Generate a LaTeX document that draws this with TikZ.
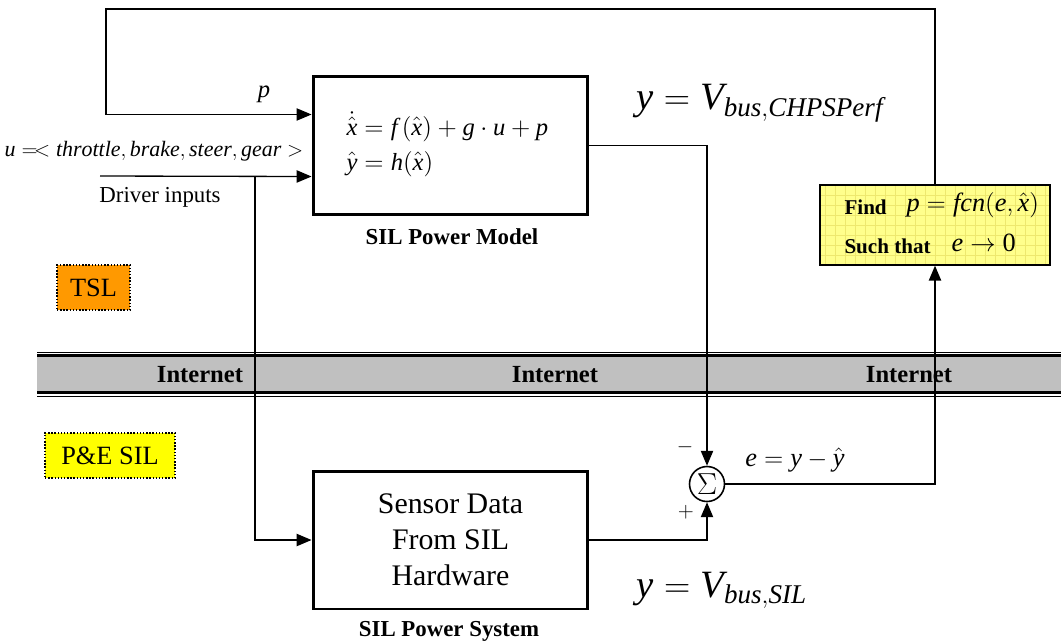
\documentclass[tikz,border=0pt]{standalone}
\usepackage{mathspec}
\setmainfont{Liberation Serif}
\setmathsfont(Digits,Latin){Liberation Serif}
\usetikzlibrary{arrows.meta,calc}
\definecolor{tslorange}{RGB}{255,153,0}
\definecolor{silyellow}{RGB}{255,255,0}
\definecolor{findyellow}{RGB}{255,255,140}
\definecolor{findgrid}{RGB}{238,232,110}
\definecolor{netgray}{RGB}{192,192,192}
\tikzset{
  block/.style={draw, line width=1.7pt, minimum width=5.5cm, minimum height=2.76cm},
  tag/.style={draw, densely dotted, line width=0.8pt, inner sep=0pt, minimum height=0.9cm, font=\fontsize{15}{17}\selectfont},
  net/.style={font=\fontsize{14}{16}\selectfont\bfseries},
  caption/.style={font=\fontsize{13}{15}\selectfont\bfseries},
  bigeq/.style={font=\fontsize{22}{26}\selectfont},
  findbox/.style={draw, line width=0.8pt, fill=findyellow, minimum width=4.6cm, minimum height=1.6cm,
    path picture={\draw[findgrid, line width=0.3pt] (path picture bounding box.south west) grid[step=0.2cm] (path picture bounding box.north east);}},
}
\begin{document}
\begin{tikzpicture}[x=0.02cm, y=-0.02cm, font=\fontsize{13}{15}\selectfont, line width=0.75pt, >={Triangle[length=8.5pt,width=7pt]}]
\useasboundingbox (0,0) rectangle (1061,643);
\fill[netgray] (37,357) rectangle (1061,391);
\draw[line width=0.5pt] (37,352) -- (1061,352);
\draw[line width=1.5pt] (37,355.5) -- (1061,355.5);
\draw[line width=1.5pt] (37,392.5) -- (1061,392.5);
\draw[line width=0.5pt] (37,396) -- (1061,396);
\node[net] (net1) at (200,375) {Internet};
\node[net] (net2) at (555,375) {Internet};
\node[net] (net3) at (909,375) {Internet};
\node[tag, fill=tslorange, minimum width=1.46cm] (tsl) at (93.5,287.5) {TSL};
\node[tag, fill=silyellow, minimum width=2.6cm] (pesil) at (110,455.5) {P\&E SIL};
\node[block] (model) at (450.5,145.5) {};
\node[anchor=west, align=left, font=\fontsize{14}{20}\selectfont] (modeleq) at (340,144)
  {$\dot{\hat{x}} = f\,(\hat{x}) + g\cdot u + p$\\$\hat{y} = h(\hat{x})$};
\node[caption] (modellbl) at (452,237) {SIL Power Model};
\node[block, align=center, font=\fontsize{17}{20.4}\selectfont] (sys) at (450.5,540)
  {Sensor Data\\From SIL\\Hardware};
\node[caption] (syslbl) at (449,631) {SIL Power System};
\node[draw, circle, minimum size=0.7cm, inner sep=0pt, line width=0.9pt, font=\fontsize{19}{21}\selectfont] (sum) at (707,484) {$\Sigma$};
\node[findbox] (find) at (935,225) {};
\node[anchor=west, font=\fontsize{12}{14}\selectfont\bfseries] (findtxt) at (838,207) {Find};
\node[anchor=west, font=\fontsize{15}{17}\selectfont] (findeq) at (900,205) {$p = fcn(e,\hat{x})$};
\node[anchor=west, font=\fontsize{12}{14}\selectfont\bfseries] (suchtxt) at (838,246) {Such that};
\node[anchor=west, font=\fontsize{15}{17}\selectfont] (sucheq) at (945,243) {$e \rightarrow 0$};
\node[font=\fontsize{14}{16}\selectfont] (plbl) at (264,94) {$p$};
\node[font=\fontsize{12.5}{15}\selectfont] (ulbl) at (154,151) {$u =\!< throttle{,}\,brake{,}\,steer{,}\,gear >$};
\node (drvlbl) at (160,197) {Driver inputs};
\node[bigeq] (ymodel) at (760,103) {$y = V_{bus,CHPSPerf}$};
\node[bigeq] (ysil) at (722,590) {$y = V_{bus,SIL}$};
\node[font=\fontsize{15}{17}\selectfont] (elbl) at (795,460) {$e = y - \hat{y}$};
\node (minus) at (685,447) {$-$};
\node (plus) at (686,512) {$+$};
\coordinate (pin) at ($(model.north west)!0.28!(model.south west)$);
\coordinate (uend) at ($(model.north west)!0.72!(model.south west)$);
\coordinate (uin) at (100,176);
\coordinate (split) at (255,176);
\coordinate (ptop) at (106,9);
\draw[->] (uin) -- (uend);
\draw[->] (split) |- (sys.west);
\draw[->] (model.east) -| (sum.north);
\draw[->] (sys.east) -| (sum.south);
\draw[->] (sum.east) -| (find.south);
\draw[->, line width=0.6pt] (find.north) |- (ptop) |- (pin);
\end{tikzpicture}
\end{document}
